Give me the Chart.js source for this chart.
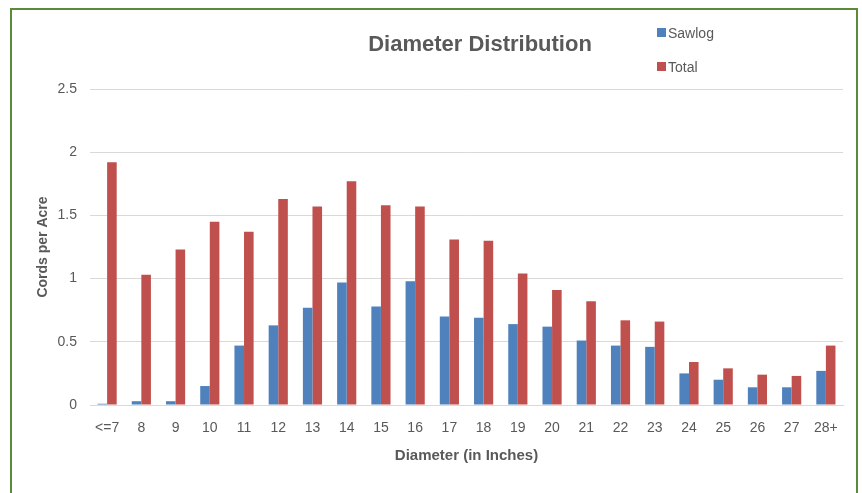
<!DOCTYPE html>
<html>
<head>
<meta charset="utf-8">
<script src="https://cdn.jsdelivr.net/npm/chart.js@4.4.0/dist/chart.umd.min.js"></script>
<style>
  html, body { margin: 0; padding: 0; background: #fff; }
  #wrap { position: relative; width: 862px; height: 493px; overflow: hidden; font-family: "Liberation Sans", Arial, sans-serif; }
  #frame { position: absolute; left: 10px; top: 8px; width: 844px; height: 520px; border: 2px solid #5b8a3c; }
  #title { position: absolute; left: 0; width: 960px; top: 30px; text-align: center; font-size: 22px; font-weight: bold; color: #595959; line-height: 28px; }
  .leg { position: absolute; left: 657px; font-size: 14px; color: #595959; line-height: 16px; }
  .leg span { display: inline-block; width: 9px; height: 9px; margin-right: 2px; vertical-align: 1px; }
  canvas { position: absolute; left: 0; top: 0; }
</style>
</head>
<body>
<div id="wrap">
  <div id="frame"></div>
  <canvas id="myChart" width="862" height="493"></canvas>
  <div id="title">Diameter Distribution</div>
  <div class="leg" style="top:25px"><span style="background:#4f81bd"></span>Sawlog</div>
  <div class="leg" style="top:59px"><span style="background:#c0504d"></span>Total</div>
</div>
<script>
const diameters = ['<=7', '8', '9', '10', '11', '12', '13', '14', '15', '16', '17',
  '18', '19', '20', '21', '22', '23', '24', '25', '26', '27', '28+'];
const sawlog = [0.01, 0.03, 0.03, 0.15, 0.47, 0.63, 0.77, 0.97, 0.78, 0.98, 0.70,
  0.69, 0.64, 0.62, 0.51, 0.47, 0.46, 0.25, 0.20, 0.14, 0.14, 0.27];
const total = [1.92, 1.03, 1.23, 1.45, 1.37, 1.63, 1.57, 1.77, 1.58, 1.57, 1.31,
  1.30, 1.04, 0.91, 0.82, 0.67, 0.66, 0.34, 0.29, 0.24, 0.23, 0.47];
const yTicks = [0, 0.5, 1, 1.5, 2, 2.5];

const grey = '#595959';

const ctx = document.getElementById('myChart').getContext('2d');
const myChart = new Chart(ctx, {
    type: 'bar',
    data: {
        labels: diameters,
        datasets: [{
            label: 'Sawlog',
            data: sawlog,
            backgroundColor: '#4f81bd',
            categoryPercentage: 0.56,
            barPercentage: 1
        }, {
            label: 'Total',
            data: total,
            backgroundColor: '#c0504d',
            categoryPercentage: 0.56,
            barPercentage: 1
        }]
    },
    options: {
        responsive: false,
        animation: false,
        layout: {
            padding: { top: 89, left: 33, right: 19, bottom: 28 }
        },
        plugins: {
            legend: { display: false },
            title: { display: false },
            tooltip: { enabled: false }
        },
        scales: {
            x: {
                grid: { display: false, drawTicks: false },
                border: { color: '#d9d9d9', width: 1 },
                ticks: {
                    color: grey,
                    padding: 15,
                    maxRotation: 0,
                    autoSkip: false,
                    font: { family: 'Liberation Sans', size: 14 }
                },
                title: {
                    display: true,
                    text: 'Diameter (in Inches)',
                    color: grey,
                    padding: 0,
                    font: { family: 'Liberation Sans', size: 15, weight: 'bold' }
                },
                afterFit: (scale) => { scale.height = 60; }
            },
            y: {
                min: 0,
                max: 2.5,
                afterBuildTicks: (scale) => {
                    scale.ticks = yTicks.map(v => ({ value: v }));
                },
                grid: { color: '#d9d9d9', drawTicks: false },
                border: { display: false },
                ticks: {
                    color: grey,
                    padding: 13,
                    callback: (v) => String(v),
                    font: { family: 'Liberation Sans', size: 14 }
                },
                title: {
                    display: true,
                    text: 'Cords per Acre',
                    color: grey,
                    padding: { top: 2, bottom: 0 },
                    font: { family: 'Liberation Sans', size: 14, weight: 'bold' }
                },
                afterFit: (scale) => { scale.width = 57; }
            }
        }
    }
});
</script>
</body>
</html>
